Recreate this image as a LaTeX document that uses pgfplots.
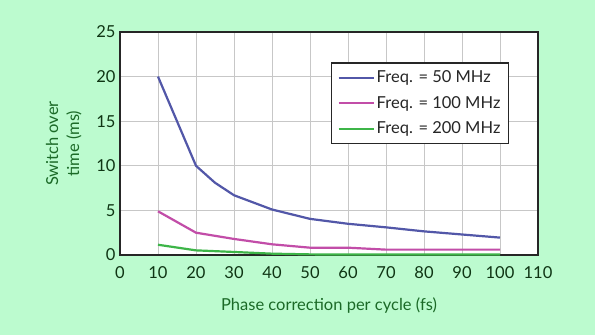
\documentclass[border=0pt]{standalone}
\usepackage{pgfplots}
\pgfplotsset{compat=1.18}
\usepackage{fontspec}
\setmainfont{Lato}
\definecolor{bg}{HTML}{BCFBCF}
\definecolor{txt}{HTML}{0F3514}
\definecolor{lab}{HTML}{1B6A27}
\definecolor{cblue}{HTML}{5257A8}
\definecolor{cmag}{HTML}{C24DA8}
\definecolor{cgreen}{HTML}{3DB548}
\begin{document}
\begin{tikzpicture}
\useasboundingbox (0,0) rectangle (595pt,335pt);
\fill[bg] (0,0) rectangle (595pt,335pt);
\begin{axis}[
  at={(120pt,80pt)}, anchor=south west,
  width=418pt, height=223pt, scale only axis,
  xmin=0, xmax=110, ymin=0, ymax=25,
  xtick={0,10,...,110}, ytick={0,5,...,25},
  grid=major,
  major grid style={draw=black!22, line width=0.9pt},
  axis line style={draw=black!85, line width=1.5pt},
  axis background/.style={fill=white},
  tick style={draw=none},
  /pgf/number format/assume math mode=true,
  ticklabel style={font=\fontsize{16.5}{16.5}\selectfont, text=txt},
  xticklabel style={yshift=-8pt},
  yticklabel style={xshift=-1pt},
  label style={font=\fontsize{16.5}{21}\selectfont, text=lab},
  xlabel={Phase correction per cycle (fs)},
  ylabel={Switch over\\time (ms)},
  ylabel style={align=center, yshift=8pt},
  xlabel style={yshift=-12pt},
  legend style={at={(axis cs:55.5,21.6)}, anchor=north west,
    draw=black!85, line width=1.3pt, fill=white,
    font=\fontsize{16.5}{18}\selectfont, text=black!85,
    row sep=8pt, inner xsep=6pt, inner ysep=6pt},
  legend image code/.code={\draw[#1, line width=2.2pt] (0pt,0pt) -- (35pt,0pt);},
  legend cell align=left,
  clip=false,
]
\addplot[draw=cblue, line width=2.2pt] coordinates {(10,20) (20,10) (25,8.1) (30,6.7) (40,5.1) (50,4.05) (60,3.5) (70,3.1) (80,2.65) (90,2.3) (100,1.95)};
\addlegendentry{Freq. = 50 MHz}
\addplot[draw=cmag, line width=2.2pt] coordinates {(10,4.9) (20,2.5) (30,1.8) (40,1.2) (50,0.82) (60,0.82) (70,0.6) (80,0.6) (90,0.6) (100,0.6)};
\addlegendentry{Freq. = 100 MHz}
\addplot[draw=cgreen, line width=2.2pt] coordinates {(10,1.15) (20,0.52) (30,0.34) (40,0.15) (50,0.07) (60,0.05) (70,0.05) (80,0.05) (90,0.05) (100,0.05)};
\addlegendentry{Freq. = 200 MHz}
\end{axis}
\end{tikzpicture}
\end{document}
